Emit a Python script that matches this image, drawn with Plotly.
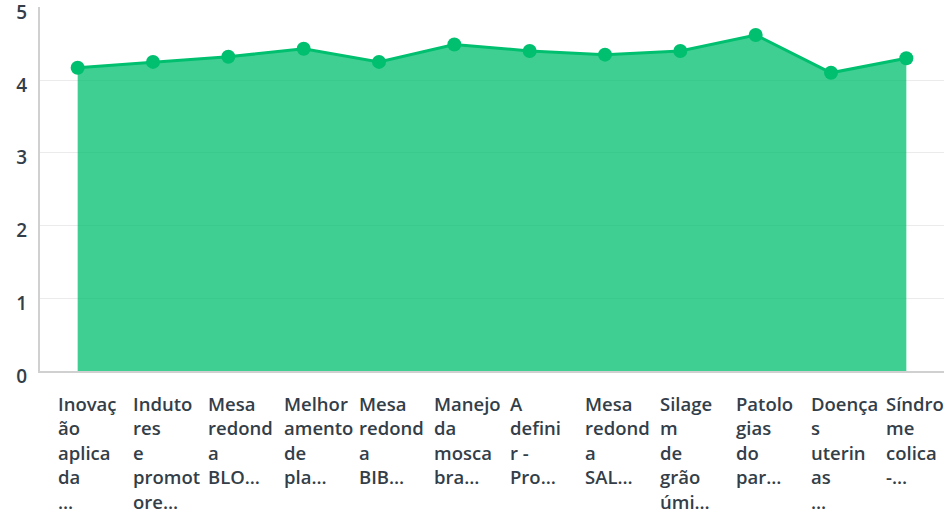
import plotly.graph_objects as go

categories = [
    "Inovação aplicada", "Indutores e promotores", "Mesa redonda BLO", "Melhoramento de pla",
    "Mesa redonda BIB", "Manejo da mosca bra", "A definir - Pro", "Mesa redonda SAL",
    "Silagem de grão úmi", "Patologias do par", "Doenças uterinas", "Síndrome colica -",
]
tick_labels = [
    "Inovaç<br>ão<br>aplica<br>da<br>…",
    "Induto<br>res<br>e<br>promot<br>ore…",
    "Mesa<br>redond<br>a<br>BLO…",
    "Melhor<br>amento<br>de<br>pla…",
    "Mesa<br>redond<br>a<br>BIB…",
    "Manejo<br>da<br>mosca<br>bra…",
    "A<br>defini<br>r -<br>Pro…",
    "Mesa<br>redond<br>a<br>SAL…",
    "Silage<br>m<br>de<br>grão<br>úmi…",
    "Patolo<br>gias<br>do<br>par…",
    "Doença<br>s<br>uterin<br>as<br>…",
    "Síndro<br>me<br>colica<br>-…",
]
values = [4.17, 4.25, 4.32, 4.43, 4.25, 4.49, 4.40, 4.35, 4.40, 4.62, 4.10, 4.30]
y_ticks = [0, 1, 2, 3, 4, 5]

GREEN = "#00bf6f"
TEXT = "#333e48"
FONT = "Open Sans"

x_idx = list(range(len(categories)))

fig = go.Figure()
fig.add_trace(go.Scatter(
    x=x_idx, y=values, mode="lines+markers",
    fill="tozeroy", fillcolor="rgba(0,191,111,0.75)",
    line=dict(color=GREEN, width=3),
    marker=dict(color=GREEN, size=14),
    hoverinfo="skip",
))

annotations = []
for i, lab in enumerate(tick_labels):
    for j, line in enumerate(lab.split("<br>")):
        annotations.append(dict(
            x=i, y=0, xref="x", yref="paper",
            text=line, showarrow=False,
            xanchor="left", yanchor="top",
            xshift=-22, yshift=-18 - j * 24.4,
            font=dict(family=FONT, size=18.5, color=TEXT, weight=600),
        ))

fig.update_layout(
    width=945, height=512,
    margin=dict(l=40, r=1, t=7, b=141, autoexpand=False),
    paper_bgcolor="white", plot_bgcolor="white",
    showlegend=False,
    annotations=annotations,
    xaxis=dict(
        range=[-0.5, 11.5], showticklabels=False, showgrid=False, zeroline=False,
        showline=True, linecolor="#d0d0d0", linewidth=2, ticks="", automargin=False,
    ),
    yaxis=dict(
        range=[0, 5.005], tickvals=y_ticks, showgrid=True, gridcolor="#ebebeb", gridwidth=1,
        zeroline=False, showline=True, linecolor="#d0d0d0", linewidth=2,
        tickfont=dict(family=FONT, size=19, color=TEXT, weight=600),
        ticklabelshift=5, ticklabelstandoff=7, ticklabeloverflow="allow",
        automargin=False,
    ),
)

fig.write_html(
    "out.html",
    config={"displayModeBar": False},
    post_script="document.body.style.margin='0';document.body.style.overflow='hidden';",
)
